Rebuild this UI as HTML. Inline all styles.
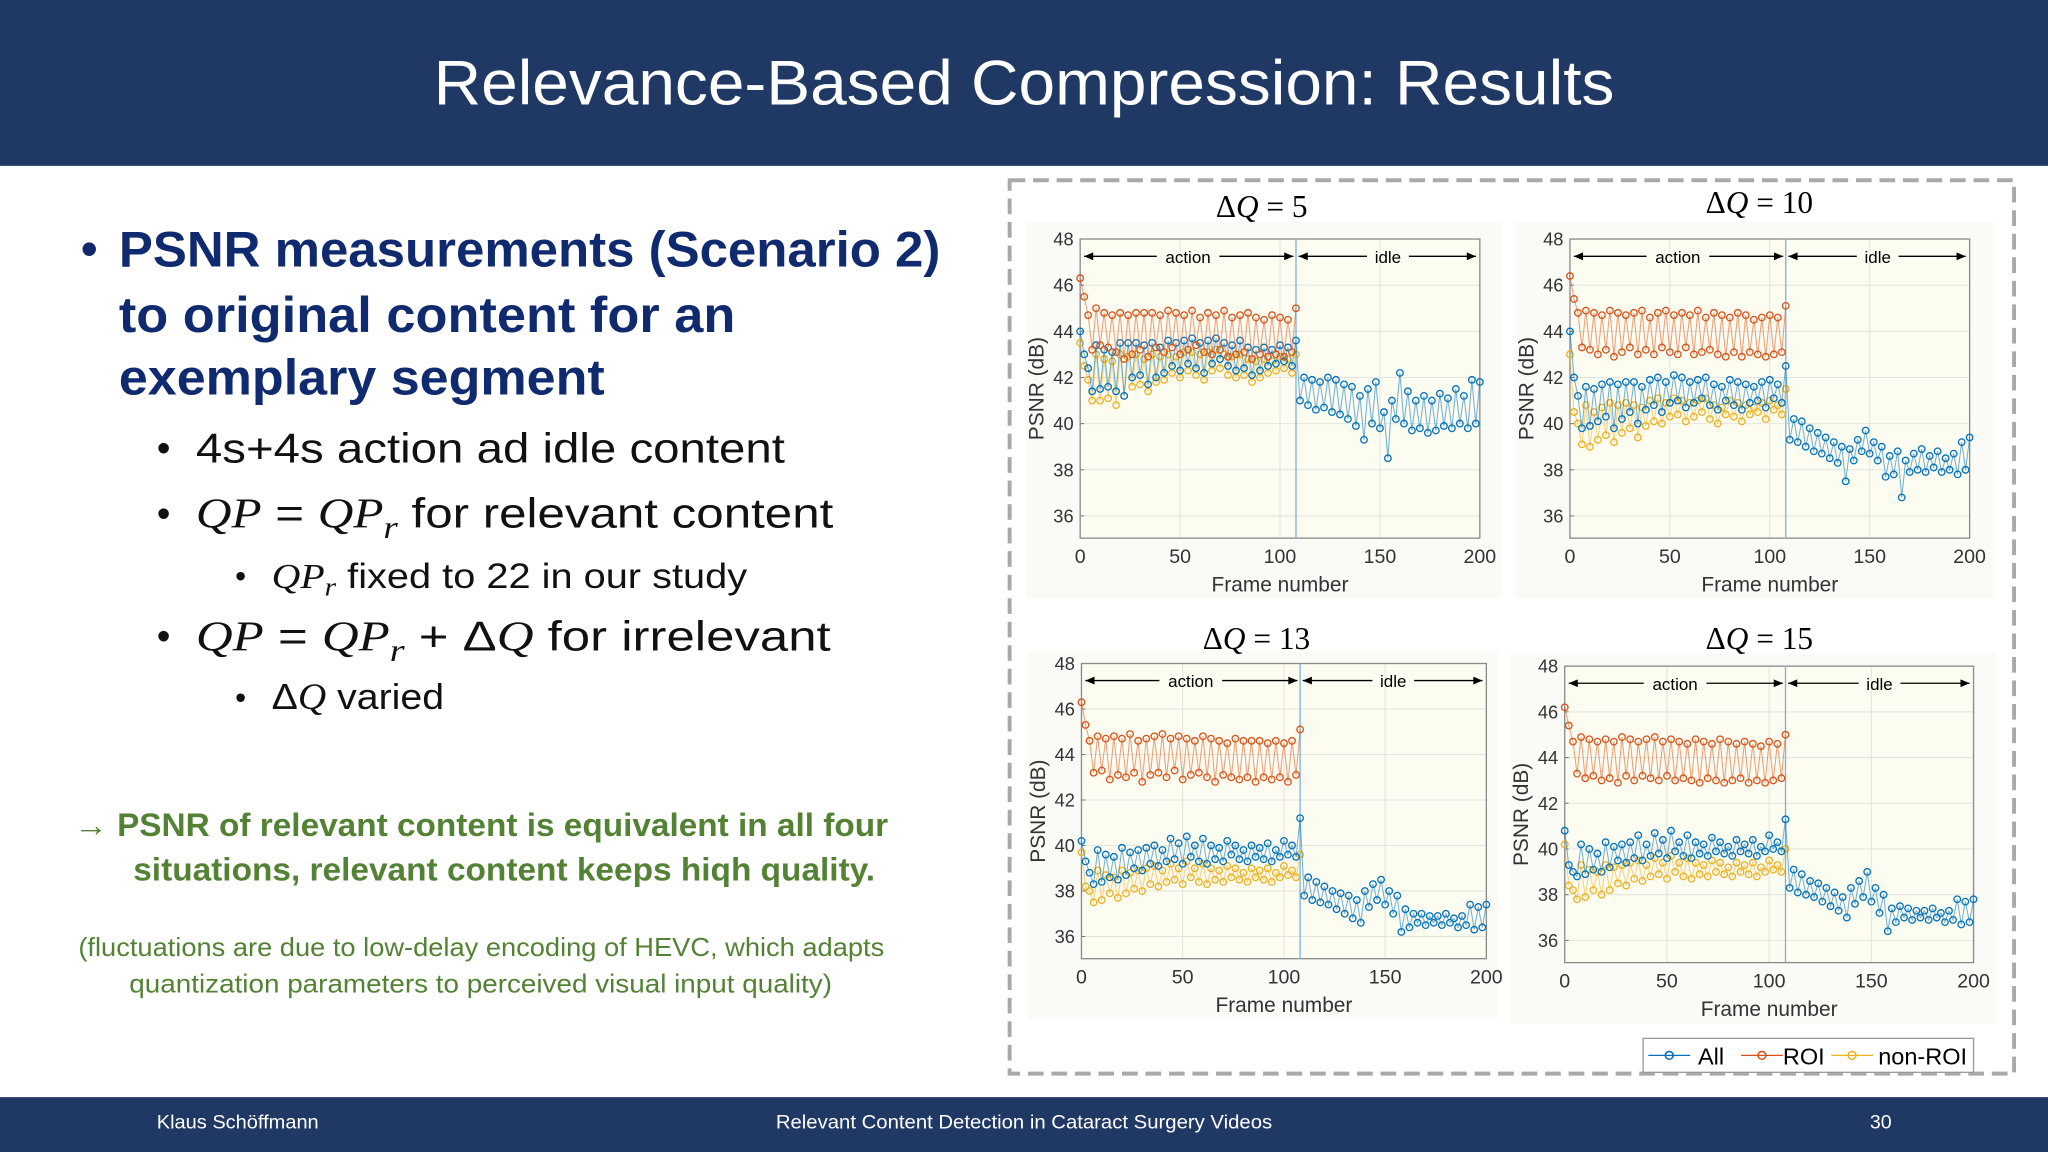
<!DOCTYPE html>
<html><head><meta charset="utf-8"><style>
html,body{margin:0;padding:0;background:#fff;}
svg{display:block;}
</style></head><body>
<svg id="slide" width="2048" height="1152" viewBox="0 0 1568 882" xmlns="http://www.w3.org/2000/svg" font-family="'Liberation Sans', sans-serif">
<rect x="0" y="0" width="1568" height="882" fill="#ffffff"/>
<g>
<rect x="0" y="0" width="1568" height="127" fill="#1f3864"/>
<text x="784" y="80" text-anchor="middle" fill="#fff" font-size="48" textLength="904" lengthAdjust="spacingAndGlyphs">Relevance-Based Compression: Results</text>
</g>
<g>
<rect x="0" y="840" width="1568" height="42" fill="#1f3864"/>
<text x="120" y="864" fill="#fff" font-size="15" textLength="124" lengthAdjust="spacingAndGlyphs">Klaus Schöffmann</text>
<text x="784" y="864" fill="#fff" font-size="15" text-anchor="middle" textLength="380" lengthAdjust="spacingAndGlyphs">Relevant Content Detection in Cataract Surgery Videos</text>
<text x="1440" y="864" fill="#fff" font-size="15" text-anchor="middle">30</text>
</g>
<g>
<text x="62" y="203" fill="#0f2a6e" font-size="36" font-weight="bold">•</text>
<text x="91" y="204" fill="#0f2a6e" font-size="38" font-weight="bold" textLength="629" lengthAdjust="spacingAndGlyphs">PSNR measurements (Scenario 2)</text>
<text x="91" y="254" fill="#0f2a6e" font-size="38" font-weight="bold" textLength="472" lengthAdjust="spacingAndGlyphs">to original content for an</text>
<text x="91" y="302" fill="#0f2a6e" font-size="38" font-weight="bold" textLength="372" lengthAdjust="spacingAndGlyphs">exemplary segment</text>
<text x="120" y="353" fill="#111" font-size="30">•</text>
<text x="150" y="354" fill="#111" font-size="32" textLength="451" lengthAdjust="spacingAndGlyphs">4s+4s  action ad idle content</text>
<text x="120" y="403" fill="#111" font-size="30">•</text>
<text x="150" y="404" fill="#111" font-size="32" textLength="488" lengthAdjust="spacingAndGlyphs"><tspan font-family="'Liberation Serif', serif" font-style="italic">QP</tspan> = <tspan font-family="'Liberation Serif', serif" font-style="italic">QP<tspan font-size="24" dy="8">r</tspan></tspan><tspan dy="-8"> for relevant content</tspan></text>
<text x="180" y="449" fill="#111" font-size="24">•</text>
<text x="208" y="450" fill="#111" font-size="27" textLength="364" lengthAdjust="spacingAndGlyphs"><tspan font-family="'Liberation Serif', serif" font-style="italic">QP<tspan font-size="20" dy="6">r</tspan></tspan><tspan dy="-6"> fixed to 22 in our study</tspan></text>
<text x="120" y="497" fill="#111" font-size="30">•</text>
<text x="150" y="498" fill="#111" font-size="32" textLength="486" lengthAdjust="spacingAndGlyphs"><tspan font-family="'Liberation Serif', serif" font-style="italic">QP</tspan> = <tspan font-family="'Liberation Serif', serif" font-style="italic">QP<tspan font-size="24" dy="8">r</tspan></tspan><tspan dy="-8"> +  Δ</tspan><tspan font-family="'Liberation Serif', serif" font-style="italic">Q</tspan> for irrelevant</text>
<text x="180" y="542" fill="#111" font-size="24">•</text>
<text x="208" y="543" fill="#111" font-size="28" textLength="132" lengthAdjust="spacingAndGlyphs">Δ<tspan font-family="'Liberation Serif', serif" font-style="italic">Q</tspan> varied</text>
<text x="57" y="640" fill="#548235" font-size="25" font-weight="bold" textLength="623" lengthAdjust="spacingAndGlyphs">→ PSNR of relevant content is equivalent in all four</text>
<text x="102" y="674" fill="#548235" font-size="25" font-weight="bold" textLength="568" lengthAdjust="spacingAndGlyphs">situations, relevant content keeps hiqh quality.</text>
<text x="60" y="732" fill="#548235" font-size="20" textLength="617" lengthAdjust="spacingAndGlyphs">(fluctuations are due to low-delay encoding of HEVC, which adapts</text>
<text x="99" y="760" fill="#548235" font-size="20" textLength="538" lengthAdjust="spacingAndGlyphs">quantization parameters to perceived visual input quality)</text>
</g>
<rect x="773" y="138" width="769" height="684" fill="none" stroke="#a9a9a9" stroke-width="3" stroke-dasharray="12 6"/>
<g id="charts"></g>
<g>
<rect x="1258" y="795" width="253" height="26" fill="#fff" stroke="#999" stroke-width="1"/>
<line x1="1262" y1="808" x2="1294" y2="808" stroke="#0072BD" stroke-width="1"/><circle cx="1278" cy="808" r="3" fill="none" stroke="#0072BD" stroke-width="1.2"/>
<text x="1300" y="815" font-size="18" fill="#000">All</text>
<line x1="1333" y1="808" x2="1365" y2="808" stroke="#D95319" stroke-width="1"/><circle cx="1349" cy="808" r="3" fill="none" stroke="#D95319" stroke-width="1.2"/>
<text x="1365" y="815" font-size="18" fill="#000">ROI</text>
<line x1="1402" y1="808" x2="1434" y2="808" stroke="#EDB120" stroke-width="1"/><circle cx="1418" cy="808" r="3" fill="none" stroke="#EDB120" stroke-width="1.2"/>
<text x="1438" y="815" font-size="18" fill="#000">non-ROI</text>
</g>
</svg>
<script>
// frames: action points at 0,2,...,108 ; idle points at 110,...,200
const yTicks = [36,38,40,42,44,46,48];
const xTicks = [0,50,100,150,200];
const boundaryFrame = 108;
const titles = ["ΔQ = 5","ΔQ = 10","ΔQ = 13","ΔQ = 15"];

const roi1 = [46.3,45.5,44.7,43.2,45.0,43.4,44.8,43.3,44.7,43.1,44.8,42.8,44.7,43.0,44.8,43.2,44.8,42.9,44.8,43.3,44.7,43.1,44.9,43.3,44.8,43.0,44.7,43.2,44.9,43.4,44.6,43.1,44.8,43.0,44.7,43.2,44.9,42.9,44.6,43.0,44.7,43.1,44.8,42.8,44.6,43.0,44.5,42.9,44.7,43.0,44.6,42.9,44.5,43.1,45.0];
const all1 = [44.0,43.0,42.4,41.4,43.4,41.5,43.2,41.6,43.1,41.4,43.5,41.2,43.5,42.0,43.5,42.1,43.4,41.7,43.5,42.0,43.3,42.2,43.6,42.5,43.5,42.3,43.6,42.6,43.7,42.4,43.5,42.2,43.6,42.6,43.7,42.8,43.5,42.5,43.4,42.3,43.6,42.4,43.3,42.1,43.2,42.3,43.3,42.5,43.2,42.6,43.4,42.7,43.3,42.5,43.6];
const non1 = [43.5,42.5,41.9,41.0,43.0,41.0,42.8,41.1,42.7,40.8,43.0,41.2,42.9,41.6,43.0,41.7,42.8,41.4,43.0,41.8,42.9,41.9,43.0,42.2,42.9,42.0,43.1,42.3,43.1,42.1,43.0,41.9,43.1,42.3,43.2,42.4,43.0,42.1,42.9,42.0,43.0,42.1,42.8,41.8,42.7,42.0,42.8,42.2,42.7,42.3,42.9,42.4,42.8,42.2,43.0];
const idle1 = [41.0,42.0,40.8,41.9,40.6,41.8,40.7,42.0,40.5,41.9,40.4,41.7,40.2,41.6,39.9,41.2,39.3,41.5,40.0,41.8,39.8,40.5,38.5,41.0,40.2,42.2,40.0,41.4,39.7,41.0,39.8,41.2,39.6,41.0,39.7,41.3,39.9,41.1,39.8,41.5,40.0,41.2,39.8,41.9,40.0,41.8];

const roi2 = [46.4,45.4,44.8,43.3,44.9,43.2,44.8,43.0,44.7,43.2,44.9,42.9,44.8,43.1,44.7,43.3,44.8,43.0,44.9,43.2,44.6,43.0,44.8,43.3,44.9,43.1,44.7,43.0,44.8,43.3,44.7,43.0,44.9,43.1,44.6,43.2,44.8,43.0,44.7,42.9,44.6,43.1,44.8,42.9,44.7,43.1,44.5,43.0,44.6,42.9,44.7,43.0,44.6,43.1,45.1];
const all2 = [44.0,42.0,41.2,39.8,41.6,39.9,41.5,40.1,41.7,40.3,41.8,39.8,41.7,40.2,41.8,40.5,41.8,40.0,41.6,40.6,41.9,40.8,42.0,40.5,41.8,40.9,42.1,41.0,42.0,40.7,41.8,40.9,41.9,41.1,42.0,40.8,41.7,40.6,41.6,41.0,41.9,40.8,41.8,40.6,41.7,40.9,41.6,41.0,41.8,40.7,41.9,41.1,41.7,40.9,42.5];
const non2 = [43.0,40.5,40.0,39.1,40.8,39.0,40.5,39.3,40.7,39.5,40.9,39.2,40.8,39.6,40.9,39.8,40.8,39.4,40.7,39.9,41.0,40.1,41.1,40.0,40.9,40.3,41.1,40.4,41.0,40.1,40.9,40.3,41.0,40.5,41.1,40.2,40.8,40.0,40.7,40.4,41.0,40.3,40.9,40.1,40.8,40.4,40.7,40.5,40.9,40.2,41.0,40.6,40.8,40.4,41.5];
const idle2 = [39.3,40.2,39.2,40.1,39.0,39.8,38.8,39.6,38.7,39.4,38.5,39.2,38.3,39.0,37.5,38.9,38.4,39.3,38.8,39.7,38.7,39.2,38.4,39.0,37.7,38.6,37.8,38.8,36.8,38.4,37.9,38.7,38.0,38.9,37.9,38.6,38.1,38.8,37.9,38.5,38.0,38.7,37.8,39.2,38.0,39.4];

const roi3 = [46.3,45.3,44.6,43.2,44.8,43.3,44.7,42.9,44.8,43.1,44.7,43.0,44.9,43.2,44.6,42.8,44.7,43.1,44.8,43.2,44.9,43.0,44.7,43.3,44.8,42.9,44.7,43.1,44.6,43.2,44.8,43.0,44.7,42.8,44.6,43.1,44.5,43.0,44.7,42.9,44.6,43.0,44.6,42.8,44.6,43.0,44.5,42.9,44.6,43.0,44.5,42.8,44.6,43.1,45.1];
const all3 = [40.2,39.3,38.8,38.3,39.8,38.4,39.6,38.6,39.5,38.5,39.9,38.7,39.7,39.0,39.8,38.9,39.9,39.2,40.0,39.1,39.8,39.3,40.3,39.4,40.1,39.2,40.4,39.5,40.0,39.3,40.3,39.2,40.0,39.4,39.9,39.3,40.2,39.6,40.0,39.4,39.8,39.3,40.0,39.5,39.9,39.4,40.1,39.3,39.8,39.5,40.2,39.6,40.0,39.5,41.2];
const non3 = [39.7,38.2,38.0,37.5,38.9,37.6,38.7,37.9,38.6,37.7,38.9,37.9,38.8,38.1,38.9,38.0,39.0,38.3,39.1,38.2,38.9,38.4,39.2,38.5,39.0,38.3,39.3,38.6,39.0,38.4,39.2,38.3,39.0,38.5,38.9,38.4,39.1,38.6,39.0,38.5,38.8,38.4,39.0,38.6,38.9,38.5,39.0,38.4,38.8,38.6,39.1,38.7,38.9,38.6,39.6];
const idle3 = [37.8,38.6,37.6,38.4,37.5,38.2,37.4,38.0,37.2,37.9,37.0,37.8,36.8,37.6,36.6,38.0,37.3,38.3,37.6,38.5,37.4,38.0,37.0,37.8,36.2,37.2,36.4,37.0,36.6,37.0,36.5,36.9,36.6,36.9,36.5,37.0,36.6,36.8,36.4,36.9,36.5,37.4,36.3,37.3,36.4,37.4];

const roi4 = [46.2,45.4,44.7,43.3,44.9,43.1,44.8,43.2,44.7,43.0,44.8,43.1,44.7,42.9,44.9,43.2,44.8,43.0,44.7,43.2,44.8,43.1,44.9,43.0,44.7,43.2,44.8,43.0,44.7,43.1,44.6,43.0,44.8,42.9,44.7,43.1,44.6,43.0,44.8,42.9,44.7,43.0,44.6,43.1,44.7,42.9,44.6,43.0,44.5,42.9,44.7,43.0,44.6,43.1,45.0];
const all4 = [40.8,39.3,39.0,38.8,40.2,38.9,40.0,39.1,39.8,39.0,40.3,39.2,40.1,39.5,40.2,39.4,40.3,39.6,40.6,39.5,40.2,39.7,40.7,39.8,40.4,39.6,40.8,39.9,40.3,39.7,40.6,39.6,40.3,39.8,40.2,39.7,40.5,39.9,40.3,39.8,40.1,39.7,40.4,39.9,40.2,39.8,40.4,39.7,40.1,39.9,40.6,40.0,40.3,39.9,41.3];
const non4 = [40.2,38.4,38.2,37.8,39.3,37.9,39.1,38.2,39.0,38.0,39.3,38.2,39.2,38.5,39.3,38.4,39.4,38.7,39.5,38.6,39.3,38.8,39.6,38.9,39.4,38.7,39.7,39.0,39.4,38.8,39.6,38.7,39.4,38.9,39.3,38.8,39.5,39.0,39.4,38.9,39.2,38.8,39.4,39.0,39.3,38.9,39.4,38.8,39.2,39.0,39.5,39.1,39.3,39.0,40.0];
const idle4 = [38.3,39.1,38.1,38.9,38.0,38.6,37.9,38.5,37.7,38.3,37.5,38.1,37.3,37.9,37.0,38.3,37.6,38.6,37.9,39.0,37.7,38.3,37.2,38.0,36.4,37.4,36.8,37.5,37.0,37.4,36.9,37.3,37.0,37.3,36.9,37.4,37.0,37.2,36.8,37.3,36.9,37.8,36.7,37.7,36.8,37.8];

const NS = "http://www.w3.org/2000/svg";
const COL = {all:"#0072BD", roi:"#D95319", non:"#EDB120"};
function mk(tag, attrs, parent){
  const e = document.createElementNS(NS, tag);
  for (const k in attrs) e.setAttribute(k, attrs[k]);
  parent.appendChild(e);
  return e;
}
const layouts = [
  {x0:827,x1:1133,y48:183,y36:395,bottom:412,panel:[786,170,364,288],tx:966,ty:166,name:"chart-dq5"},
  {x0:1202,x1:1508,y48:183,y36:395,bottom:412,panel:[1160,170,366,288],tx:1347,ty:163,name:"chart-dq10"},
  {x0:828,x1:1138,y48:508,y36:717,bottom:734,panel:[787,498,360,282],tx:962,ty:497,name:"chart-dq13"},
  {x0:1198,x1:1511,y48:510,y36:720,bottom:737,panel:[1156,500,372,284],tx:1347,ty:497,name:"chart-dq15"}
];
const series = [[all1,roi1,non1,idle1],[all2,roi2,non2,idle2],[all3,roi3,non3,idle3],[all4,roi4,non4,idle4]];
const root = document.getElementById('charts');

layouts.forEach((L, ci) => {
  const g = mk('g', {}, root);
  
  
  const sx = f => L.x0 + (f/200)*(L.x1-L.x0);
  const sy = v => L.y48 + (48-v)*(L.y36-L.y48)/12;
  mk('rect', {x:L.panel[0], y:L.panel[1], width:L.panel[2], height:L.panel[3], fill:"#fafaf6"}, g);
  mk('rect', {x:L.x0, y:L.y48, width:L.x1-L.x0, height:L.bottom-L.y48, fill:"#fdfcf1"}, g);
  const t = mk('text', {x:L.tx, y:L.ty, "text-anchor":"middle", "font-size":24, "font-family":"'Liberation Serif', serif", fill:"#000"}, g);
  
  
  t.innerHTML = 'Δ<tspan font-style="italic">Q</tspan> = ' + titles[ci].split('= ')[1];
  yTicks.forEach(v => {
    mk('line', {x1:L.x0, x2:L.x1, y1:sy(v), y2:sy(v), stroke:"#e4e4e0", "stroke-width":0.8}, g);
    mk('line', {x1:L.x0, x2:L.x0+3, y1:sy(v), y2:sy(v), stroke:"#777", "stroke-width":0.8}, g);
    const tl = mk('text', {x:L.x0-5, y:sy(v)+5, "text-anchor":"end", "font-size":14, fill:"#333"}, g);
    
    
    tl.textContent = v;
  });
  xTicks.forEach(f => {
    mk('line', {x1:sx(f), x2:sx(f), y1:L.y48, y2:L.bottom, stroke:"#e4e4e0", "stroke-width":0.8}, g);
    const tl = mk('text', {x:sx(f), y:L.bottom+19, "text-anchor":"middle", "font-size":15, fill:"#333"}, g);
    
    
    tl.textContent = f;
  });
  mk('rect', {x:L.x0, y:L.y48, width:L.x1-L.x0, height:L.bottom-L.y48, fill:"none", stroke:"#8a8a8a", "stroke-width":1}, g);
  const xt = mk('text', {x:(L.x0+L.x1)/2, y:L.bottom+41, "text-anchor":"middle", "font-size":16, fill:"#333"}, g);
  
  
  xt.textContent = 'Frame number';
  const yc = (L.y48+L.bottom)/2;
  const yt = mk('text', {x:L.x0-28, y:yc, "text-anchor":"middle", "font-size":16, fill:"#333", transform:`rotate(-90 ${L.x0-28} ${yc})`}, g);
  
  
  yt.textContent = 'PSNR (dB)';
  // boundary line
  const bx = sx(boundaryFrame);
  mk('line', {x1:bx, x2:bx, y1:L.y48, y2:L.bottom, stroke:"#7fb0d8", "stroke-width":1}, g);
  // annotations
  const ay = sy(47.25);
  const arr = (x1,x2,dir) => {
    mk('line', {x1:x1, x2:x2, y1:ay, y2:ay, stroke:"#000", "stroke-width":1}, g);
    const hx = dir<0 ? x1 : x2;
    mk('path', {d:`M${hx} ${ay} l${-dir*7} -3 l0 6 z`, fill:"#000"}, g);
  };
  const aMid = (L.x0+bx)/2, iMid = (bx+L.x1)/2;
  arr(L.x0+3, aMid-24, -1); arr(aMid+24, bx-2, 1);
  arr(bx+2, iMid-16, -1); arr(iMid+16, L.x1-3, 1);
  const at = mk('text', {x:aMid, y:ay+5, "text-anchor":"middle", "font-size":13, fill:"#000"}, g);
  
  
  at.textContent = 'action';
  const it = mk('text', {x:iMid, y:ay+5, "text-anchor":"middle", "font-size":13, fill:"#000"}, g);
  
  
  it.textContent = 'idle';
  // series
  const [allA, roiA, nonA, idleA] = series[ci];
  const drawSeries = (vals, startFrame, col, nm) => {
    const sg = mk('g', {}, g);
    
    
    const pts = vals.map((v,i) => [sx(startFrame + i*2), sy(v)]);
    mk('polyline', {points: pts.map(p=>p[0].toFixed(1)+','+p[1].toFixed(1)).join(' '), fill:"none", stroke:col, "stroke-width":0.8, "stroke-opacity":0.55}, sg);
    pts.forEach(p => {
      const c = mk('circle', {cx:p[0].toFixed(1), cy:p[1].toFixed(1), r:2.5, fill:"none", stroke:col, "stroke-width":1}, sg);
      
      
    });
  };
  drawSeries(nonA, 0, COL.non, 'series-non-roi');
  drawSeries(allA.concat(idleA), 0, COL.all, 'series-all');
  drawSeries(roiA, 0, COL.roi, 'series-roi');
});
</script>
</body></html>
